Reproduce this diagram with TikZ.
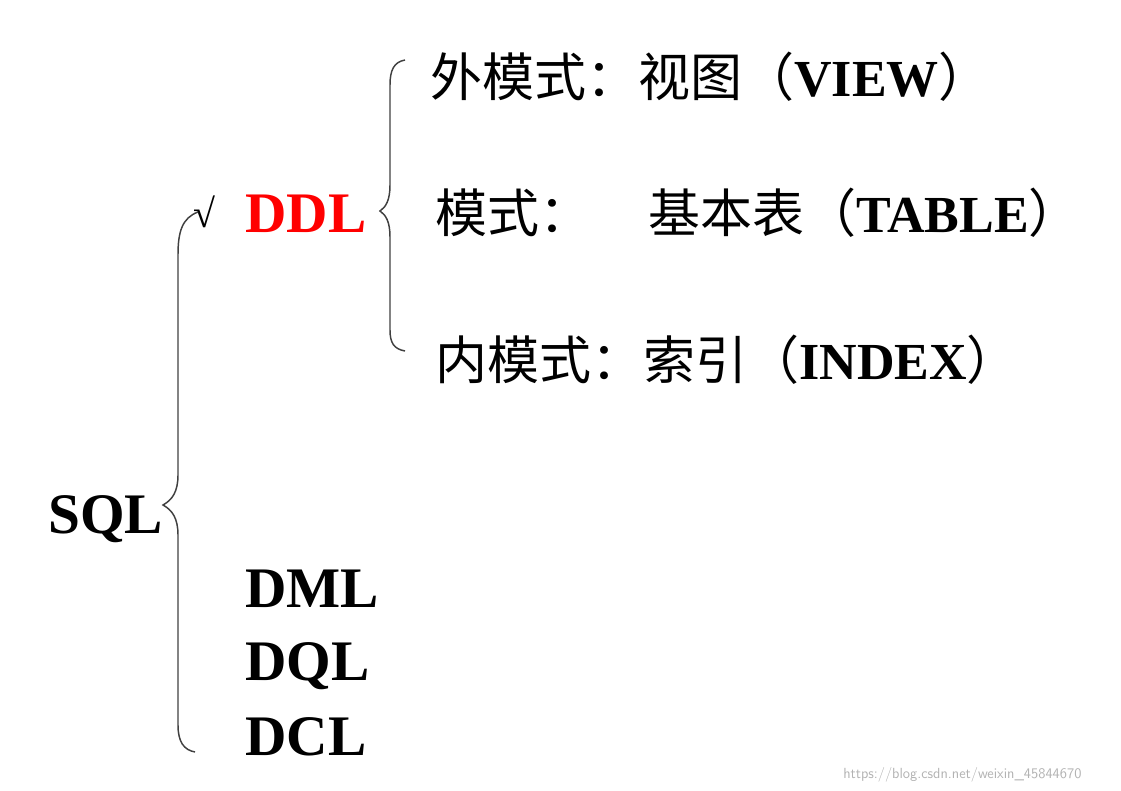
\documentclass[tikz,border=0pt]{standalone}
\usepackage{fontspec}
\setmainfont{Liberation Serif}
\newfontfamily\zh{Noto Sans CJK SC}
\begin{document}
\begin{tikzpicture}[x=0.75pt,y=-0.75pt,
  lbl/.style={anchor=base west,inner sep=0pt,font=\fontsize{39}{40}\selectfont},
  big/.style={anchor=base west,inner sep=0pt,font=\fontsize{43}{44}\selectfont\bfseries},
  brc/.style={draw=black!75,line width=1.1pt}]
\useasboundingbox (0,0) rectangle (1121,791);
\node[big] (sql) at (48,533) {SQL};
\node[big,text=red] (ddl) at (245,233) {DDL};
\node[anchor=base west,inner sep=0pt,font=\fontsize{30}{30}\selectfont\bfseries] (chk) at (193,228) {√};
\node[big] (dml) at (245,607) {DML};
\node[big] (dql) at (245,680) {DQL};
\node[big] (dcl) at (245,755) {DCL};
\node[lbl] (v) at (430,97) {{\zh 外模式：视图（}\textbf{VIEW}{\zh ）}};
\node[lbl] (t1) at (435,233) {\zh 模式：};
\node[lbl] (t2) at (648,233) {{\zh 基本表（}\textbf{TABLE}{\zh ）}};
\node[lbl] (i) at (435,380) {{\zh 内模式：索引（}\textbf{INDEX}{\zh ）}};
\node[anchor=base west,inner sep=0pt,text=black!30,font=\fontsize{11}{12}\selectfont\sffamily] (wm) at (843,778) {https://blog.csdn.net/weixin\_45844670};
% big brace
\draw[brc] (198,212) .. controls (182,218) and (178,232) .. (178,255) -- (178,475)
  .. controls (178,492) and (172,500) .. (163,505)
  .. controls (172,510) and (178,518) .. (178,535) -- (178,725)
  .. controls (178,742) and (184,750) .. (195,752);
% small brace
\draw[brc] (405,60) .. controls (394,62) and (390,70) .. (390,85) -- (390,185)
  .. controls (390,200) and (386,207) .. (380,211)
  .. controls (386,215) and (390,222) .. (390,237) -- (390,330)
  .. controls (390,343) and (394,349) .. (405,351);
\end{tikzpicture}
\end{document}
